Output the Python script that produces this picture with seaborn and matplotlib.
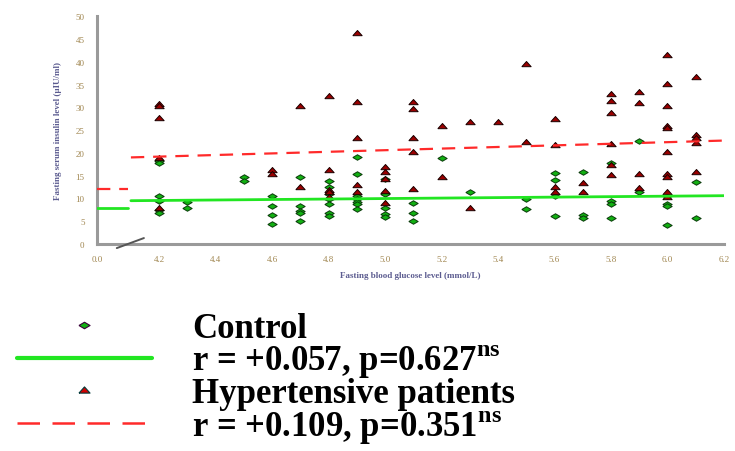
import matplotlib
matplotlib.use("Agg")
import matplotlib.pyplot as plt
import seaborn as sns
from matplotlib.lines import Line2D

# fasting glucose (mmol/L) and fasting insulin for each group, read column by column
ctrl_glucose = ([4.2] * 6 + [4.3] * 2 + [4.5] * 2 + [4.6] * 4 + [4.7] * 5 + [4.8] * 7
                + [4.9] * 7 + [5.0] * 5 + [5.1] * 3 + [5.2] + [5.3] + [5.5] * 2
                + [5.6] * 4 + [5.7] * 3 + [5.8] * 4 + [5.9] * 2 + [6.0] * 4 + [6.1] * 2)
ctrl_insulin = [18.3, 17.8, 10.6, 9.5, 7.4, 6.9,
                9.2, 7.8,
                14.8, 13.8,
                10.5, 8.3, 6.4, 4.4,
                14.8, 8.3, 7.3, 6.8, 5.0,
                13.9, 12.6, 11.0, 9.9, 8.8, 6.7, 6.2,
                19.2, 15.4, 10.5, 9.9, 9.3, 8.8, 7.7,
                14.2, 11.0, 7.9, 6.6, 5.9,
                9.0, 6.8, 5.0,
                18.8,
                11.5,
                9.9, 7.7,
                15.5, 14.1, 10.5, 6.2,
                15.9, 6.4, 5.7,
                17.8, 9.5, 8.8, 5.8,
                22.5, 11.5,
                10.6, 8.8, 8.3, 4.2,
                13.7, 5.6]

htn_glucose = ([4.2] * 5 + [4.6] * 2 + [4.7] * 2 + [4.8] * 5 + [4.9] * 5 + [5.0] * 5
               + [5.1] * 5 + [5.2] * 2 + [5.3] * 2 + [5.4] + [5.5] * 2 + [5.6] * 4
               + [5.7] * 2 + [5.8] * 6 + [5.9] * 4 + [6.0] * 10 + [6.1] * 5)
htn_insulin = [30.8, 30.2, 27.6, 18.9, 7.8,
               16.3, 15.4,
               30.3, 12.4,
               32.5, 16.3, 11.9, 11.4, 10.4,
               46.4, 31.1, 23.3, 13.0, 11.3,
               16.8, 15.9, 14.3, 11.7, 9.1,
               31.2, 29.6, 23.2, 20.2, 12.1,
               25.8, 14.6,
               26.8, 7.8,
               26.7,
               39.6, 22.3,
               27.4, 21.8, 12.6, 11.3,
               13.4, 11.5,
               32.9, 31.4, 28.7, 21.9, 17.3, 15.1,
               33.3, 31.0, 15.4, 12.3,
               41.4, 35.1, 30.3, 26.0, 25.4, 20.2, 15.4, 14.8, 11.5, 10.4,
               36.7, 23.9, 23.2, 22.1, 15.9]

# fitted lines: short stub next to the broken origin, then the main segment
ctrl_fit_x = [4.1, 6.2]
ctrl_fit_y = [9.5, 10.6]
htn_fit_x = [4.1, 6.2]
htn_fit_y = [19.0, 22.7]
stub_x = [3.98, 4.09]
ctrl_stub_y = [7.9, 7.9]
htn_stub_y = [12.1, 12.1]

x_ticks = [3.98, 4.2, 4.4, 4.6, 4.8, 5.0, 5.2, 5.4, 5.6, 5.8, 6.0, 6.2]
x_labels = ["0.0", "4.2", "4.4", "4.6", "4.8", "5.0", "5.2", "5.4", "5.6", "5.8", "6.0", "6.2"]
y_ticks = list(range(0, 51, 5))

legend_labels = ["Control",
                 r"r = +0.057, p=0.627$^{\mathregular{ns}}$",
                 "Hypertensive patients",
                 r"r = +0.109, p=0.351$^{\mathregular{ns}}$"]

GREEN = "#12b012"
DARK_RED = "#9a0000"
GREEN_LINE = "#22e622"
RED_LINE = "#ff2a2a"
AXIS_GRAY = "#9a9a9a"
TICK_TXT = "#a08650"
LABEL_TXT = "#5c5c90"

# wide, flat marker shapes (the source figure is stretched sideways)
diamond = [(-1.7, 0), (0, 1), (1.7, 0), (0, -1), (-1.7, 0)]
triangle = [(-1.7, -0.8), (1.7, -0.8), (0, 1.1), (-1.7, -0.8)]

sns.set_style("white")
plt.rcParams["font.family"] = ["Liberation Serif", "DejaVu Serif"]

fig = plt.figure(figsize=(7.35, 4.52), dpi=100)
ax = fig.add_axes([0.132, 0.458, 0.853, 0.504])

sns.scatterplot(x=ctrl_glucose, y=ctrl_insulin, marker=diamond, s=45, color=GREEN,
                edgecolor="#0a3a0a", linewidth=0.7, ax=ax, zorder=3)
sns.scatterplot(x=htn_glucose, y=htn_insulin, marker=triangle, s=45, color=DARK_RED,
                edgecolor="#1a0000", linewidth=0.7, ax=ax, zorder=4)

ax.plot(ctrl_fit_x, ctrl_fit_y, color=GREEN_LINE, lw=2.0, zorder=5)
ax.plot(stub_x, ctrl_stub_y, color=GREEN_LINE, lw=2.0, zorder=5)
ax.plot(htn_fit_x, htn_fit_y, color=RED_LINE, lw=1.6, dashes=(6, 4), zorder=5)
ax.plot(stub_x, htn_stub_y, color=RED_LINE, lw=1.6, dashes=(6, 4), zorder=5)

ax.set_xlim(3.98, 6.2)
ax.set_ylim(0, 50)
ax.set_xticks(x_ticks)
ax.set_xticklabels(x_labels)
ax.set_yticks(y_ticks)
for side in ["top", "right"]:
    ax.spines[side].set_visible(False)
for side in ["left", "bottom"]:
    ax.spines[side].set_color(AXIS_GRAY)
    ax.spines[side].set_linewidth(2.2)
ax.tick_params(axis="y", direction="out", length=6, width=1.6, color=AXIS_GRAY,
               labelsize=6.5, labelcolor=TICK_TXT, pad=3)
ax.tick_params(axis="x", direction="out", length=3, width=1.6, color=AXIS_GRAY,
               labelsize=6.5, labelcolor=TICK_TXT, pad=5)

# axis break mark between 0.0 and 4.2
ax.plot([4.05, 4.146], [-0.9, 1.3], color="#555555", lw=1.4, clip_on=False, zorder=6)

ax.set_xlabel("Fasting blood glucose level (mmol/L)", fontsize=6.5, color=LABEL_TXT,
              fontweight="bold", labelpad=6)
ax.set_ylabel("Fasting serum insulin level (\u00b5IU/ml)", fontsize=6.5, color=LABEL_TXT,
              fontweight="bold", labelpad=10)

handles = [
    Line2D([], [], ls="none", marker=diamond, ms=8, mfc=GREEN, mec="#3a003a", mew=0.8),
    Line2D([], [], color=GREEN_LINE, lw=3),
    Line2D([], [], ls="none", marker=triangle, ms=8, mfc="#d00000", mec="#003a3a", mew=0.8),
    Line2D([], [], color=RED_LINE, lw=1.8, dashes=(9, 5)),
]
fig.legend(handles, legend_labels, loc="upper left", bbox_to_anchor=(0.018, 0.315),
           frameon=False, prop={"family": "Liberation Serif", "weight": "bold", "size": 25},
           handlelength=3.9, handletextpad=1.15, labelspacing=-0.08, borderpad=0.1,
           borderaxespad=0.0, labelcolor="black")

fig.savefig("out.png", dpi=100)
